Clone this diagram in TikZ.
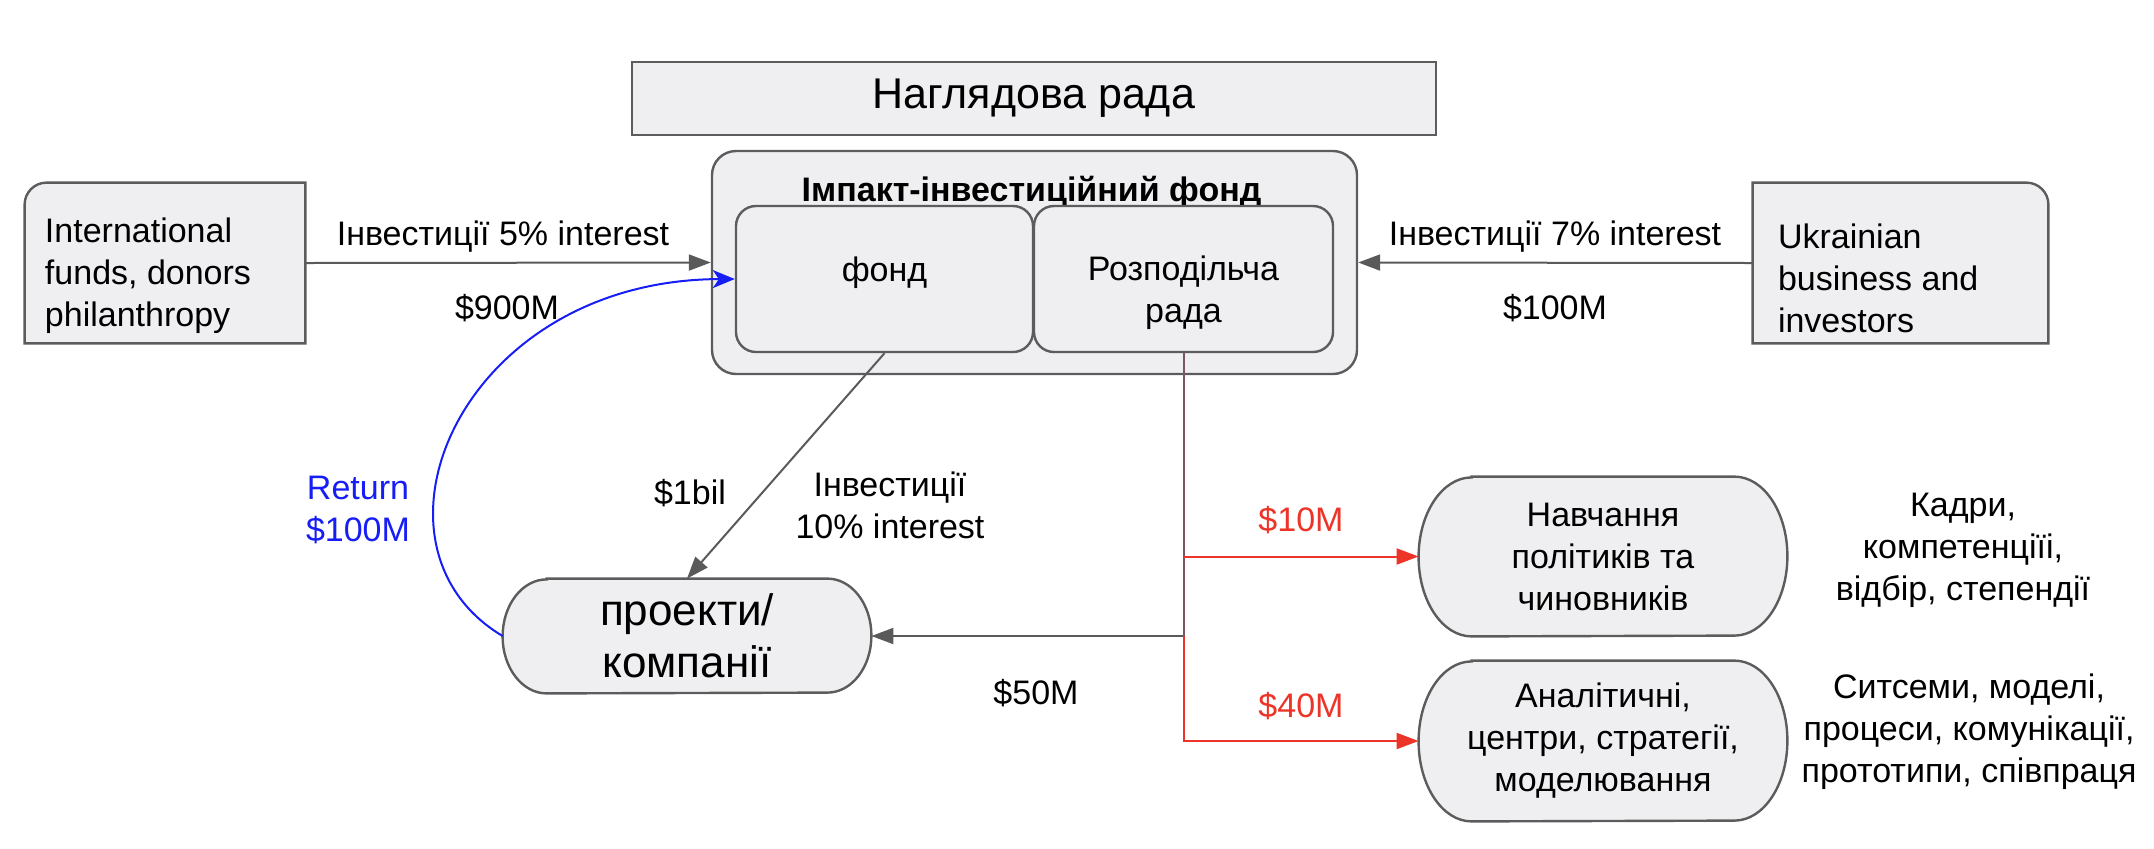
\documentclass[tikz,border=0pt]{standalone}
\usepackage{fontspec}
\setmainfont{Liberation Sans}
\definecolor{boxfill}{RGB}{239,239,241}
\definecolor{boxline}{RGB}{92,92,92}
\definecolor{arrowgrey}{RGB}{90,90,90}
\definecolor{flowred}{RGB}{236,52,40}
\definecolor{flowblue}{RGB}{22,30,245}
\definecolor{splitline}{RGB}{120,86,102}
\usepackage{tikz}
\usetikzlibrary{arrows.meta,positioning,backgrounds,calc}
\newcommand{\redamt}[1]{\textcolor{flowred}{#1}}
\newcommand{\blueamt}[1]{\textcolor{flowblue}{#1}}
\newcommand{\pillframe}[3]{%
  \draw[panel] ([xshift=#2]#1.north west) -- ([xshift=-#2]#1.north east)
    arc[start angle=90, end angle=-90, x radius=#2, y radius=#3]
    -- ([xshift=#2]#1.south west)
    arc[start angle=270, end angle=90, x radius=#2, y radius=#3] -- cycle;}

\begin{document}
\begin{tikzpicture}[x=0.5pt, y=-0.5pt,
    txt/.style={font=\fontsize{17}{21}\selectfont, inner sep=0pt},
    panel/.style={draw=boxline, fill=boxfill, line width=1.2pt},
    pill/.style={txt, align=center, minimum width=184pt},
    flow/.style={draw=arrowgrey, line width=1pt, -{Triangle[length=11pt, width=8pt]}},
    redflow/.style={flow, draw=flowred},
    backflow/.style={draw=flowblue, line width=1pt, -{Stealth[length=11pt, width=9pt, inset=3pt]}}]
    \useasboundingbox (0,0) rectangle (2154,848);

    % supervisory board and the fund
    \node[panel, txt, font=\fontsize{21.5}{26}\selectfont, minimum width=402pt, minimum height=36.5pt] (supervisory) at (1034,98.5) {Наглядова рада};
    \node[panel, rounded corners=12pt, minimum width=322.5pt, minimum height=111.5pt] (fund) at (1034.5,262.5) {};
    \node[txt, font=\bfseries\fontsize{17}{21}\selectfont] (fundtitle) at (1031.5,192) {Імпакт-інвестиційний фонд};
    \node[panel, rounded corners=10pt, minimum width=148.5pt, minimum height=73pt] (pool) at (884.5,279) {};
    \node[txt] (pooltext) at (884.5,273) {фонд};
    \node[panel, rounded corners=10pt, minimum width=149.5pt, minimum height=73pt] (distrib) at (1183.5,279) {};
    \node[txt, align=center, below=25.5pt of distrib.north] (distribtext) {Розподільча\\рада};

    % outside money
    \node[minimum width=140pt, minimum height=80pt] (donors) at (165,263) {};
    \draw[panel] (donors.south west) [rounded corners=11pt] -- (donors.north west) [sharp corners] -- (donors.north east) -- (donors.south east) -- cycle;
    \node[txt, align=left, below right=17.5pt and 10pt of donors.north west] (donorstext) {International\\funds, donors\\philanthropy};
    \node[minimum width=147.5pt, minimum height=80pt] (investors) at (1900.5,263) {};
    \draw[panel] (investors.north west) [rounded corners=11pt] -- (investors.north east) [sharp corners] -- (investors.south east) -- (investors.south west) -- cycle;
    \node[txt, align=left, below right=20.5pt and 12.5pt of investors.north west] (investorstext) {Ukrainian\\business and\\investors};

    % receivers
    \node[pill, font=\fontsize{22}{26}\selectfont, minimum height=57pt] (proj) at (687,636) {проекти/\\компанії};
    \node[pill, minimum height=79.5pt] (train) at (1603,556.5) {Навчання\\політиків та\\чиновників};
    \node[pill, minimum height=80pt] (anal) at (1603,741) {Аналітичні,\\центри, стратегії,\\моделювання};
    \begin{scope}[on background layer]
        \pillframe{proj}{22pt}{28.5pt}
        \pillframe{train}{26.5pt}{39.75pt}
        \pillframe{anal}{26.5pt}{40pt}
    \end{scope}

    % flows
    \coordinate (split) at (distrib.south |- proj.east);
    \coordinate (tap) at (distrib.south |- train.west);
    \draw[flow] (donors.east) -- (fund.west);
    \draw[flow] (investors.west) -- (fund.east);
    \draw[flow] (pool.south) -- (proj.north);
    \draw[backflow] (proj.west) .. controls (350,545) and (460,280) .. (pool.west);
    \draw[draw=splitline, line width=1pt] (distrib.south) -- (split);
    \draw[flow] (split) -- (proj.east);
    \draw[redflow] (tap) -- (train.west);
    \draw[redflow] (split) |- (anal.west);

    % labels
    \node[txt] (ratelow) at (503,237) {Інвестиції 5\% interest};
    \node[txt] (sumdonors) at (507,308) {\$900M};
    \node[txt] (ratemid) at (1555,237) {Інвестиції 7\% interest};
    \node[txt] (suminvestors) at (1555,308) {\$100M};
    \node[txt] (sumfund) at (690,493) {\$1bil};
    \node[txt, align=center] (ratehigh) at (890,505) {Інвестиції\\10\% interest};
    \node[txt, align=center] (sumreturn) at (358,510) {\blueamt{Return}\\\blueamt{\$100M}};
    \node[txt] (sumtrain) at (1301,520) {\redamt{\$10M}};
    \node[txt] (sumanal) at (1301,706) {\redamt{\$40M}};
    \node[txt] (sumproj) at (1036,693) {\$50M};
    \node[txt, align=center] (trainnote) at (1963,550) {Кадри,\\компетенціїі,\\відбір, степендії};
    \node[txt, align=center] (analnote) at (1969,732) {Ситсеми, моделі,\\процеси, комунікації,\\прототипи, співпраця};
\end{tikzpicture}
\end{document}
